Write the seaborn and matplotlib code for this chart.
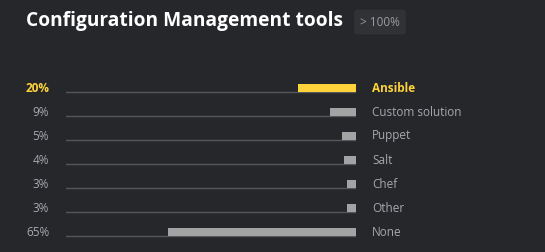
import matplotlib
matplotlib.use("Agg")
import matplotlib.pyplot as plt
import seaborn as sns
import pandas as pd

# Data
tools = ["Ansible", "Custom solution", "Puppet", "Salt", "Chef", "Other", "None"]
shares = [20, 9, 5, 4, 3, 3, 65]
labels = ["20%", "9%", "5%", "4%", "3%", "3%", "65%"]

df = pd.DataFrame({"tool": tools, "share": shares})

bg = "#26272b"
yellow = "#fdd23a"
grey_bar = "#a3a3a3"
grey_txt = "#a6a8ad"

sns.set_theme(style="dark")
plt.rcParams["font.family"] = ["Open Sans", "DejaVu Sans"]

fig = plt.figure(figsize=(5.45, 2.52), dpi=100, facecolor=bg)
ax = fig.add_axes([66 / 545, 8 / 252, 290 / 545, 168 / 252])
ax.set_facecolor(bg)

palette = [yellow] + [grey_bar] * (len(tools) - 1)
sns.barplot(data=df, y="tool", x="share", hue="tool", palette=palette,
            orient="h", width=0.34, legend=False, ax=ax, saturation=1,
            linewidth=0, edgecolor="none")

ax.set_xlim(100, 0)
ax.set_ylim(len(tools) - 0.5, -0.5)

# thin baseline under every bar
for i in range(len(tools)):
    ax.plot([100, 0], [i + 0.17, i + 0.17], color="#55565b", lw=1, zorder=0)

for i, (t, lab) in enumerate(zip(tools, labels)):
    first = i == 0
    col = yellow if first else grey_txt
    w = "bold" if first else "normal"
    ax.text(-0.058, i, lab, transform=ax.get_yaxis_transform(), ha="right",
            va="center", color=col, fontsize=8.5, fontweight=w)
    ax.text(1.055, i, t, transform=ax.get_yaxis_transform(), ha="left",
            va="center", color=col, fontsize=8.5, fontweight=w)

ax.set_xticks([])
ax.set_yticks([])
ax.set_xlabel("")
ax.set_ylabel("")
for s in ax.spines.values():
    s.set_visible(False)

fig.text(26 / 545, 1 - 21 / 252, "Configuration Management tools", color="white",
         fontsize=13.8, fontweight="bold", va="center", ha="left")
fig.text(360 / 545, 1 - 22 / 252, "> 100%", color="#9a9ca1", fontsize=8.5,
         va="center", ha="left",
         bbox=dict(boxstyle="round,pad=0.5,rounding_size=0.3", fc="#313236", ec="none"))

fig.savefig("out.png", dpi=100, facecolor=bg)
